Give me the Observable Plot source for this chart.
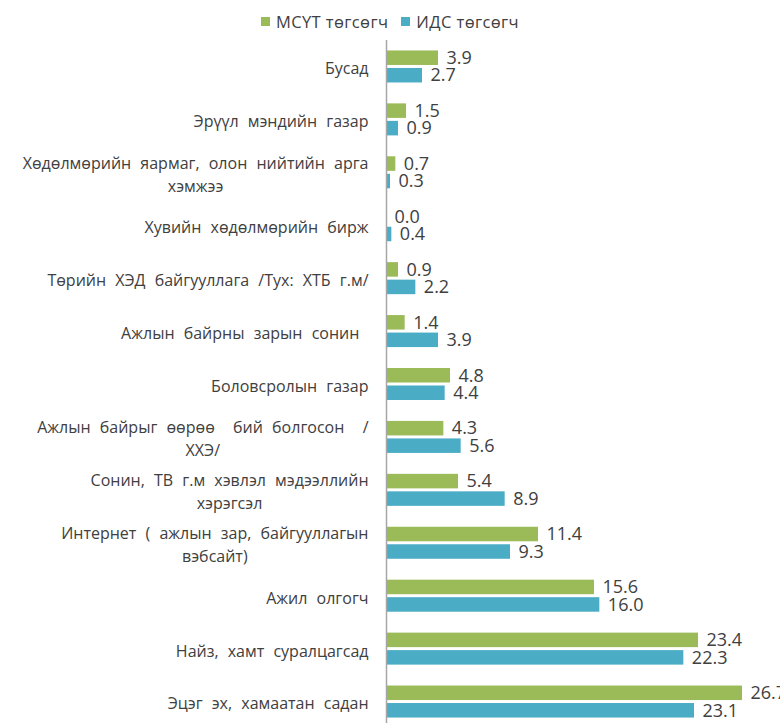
<!DOCTYPE html>
<html>
<head>
<meta charset="utf-8">
<script src="https://cdn.jsdelivr.net/npm/d3@7"></script>
<script src="https://cdn.jsdelivr.net/npm/@observablehq/plot@0.6"></script>
<style>
  html, body { margin: 0; padding: 0; background: #fff; overflow: hidden; }
  #legend { height: 36px; display: flex; justify-content: center; align-items: center; gap: 13px;
    font-family: "Open Sans", sans-serif; font-size: 16.5px; letter-spacing: 0.4px; color: #404040;
    padding-top: 6px; box-sizing: border-box; }
  #legend .item { display: flex; align-items: center; gap: 6px; }
  #legend .sw { width: 9px; height: 9px; display: inline-block; }
  #chart svg { overflow: hidden; display: block; }
</style>
</head>
<body>
<div id="legend"></div>
<div id="chart"></div>
<script>
const categories = [
  "Бусад",
  "Эрүүл мэндийн газар",
  "Хөдөлмөрийн яармаг, олон нийтийн арга\nхэмжээ",
  "Хувийн хөдөлмөрийн бирж",
  "Төрийн ХЭД байгууллага /Тух: ХТБ г.м/",
  "Ажлын байрны зарын сонин ",
  "Боловсролын газар",
  "Ажлын байрыг өөрөө  бий болгосон  /\nХХЭ/",
  "Сонин, ТВ г.м хэвлэл мэдээллийн\nхэрэгсэл",
  "Интернет ( ажлын зар, байгууллагын\nвэбсайт)",
  "Ажил олгогч",
  "Найз, хамт суралцагсад",
  "Эцэг эх, хамаатан садан"
];
const seriesNames = ["МСҮТ төгсөгч", "ИДС төгсөгч"];
const mcytValues = [3.9, 1.5, 0.7, 0.0, 0.9, 1.4, 4.8, 4.3, 5.4, 11.4, 15.6, 23.4, 26.7];
const idsValues  = [2.7, 0.9, 0.3, 0.4, 2.2, 3.9, 4.4, 5.6, 8.9, 9.3, 16.0, 22.3, 23.1];
const colors = ["#9BBB59", "#4BACC6"];

const mcyt = categories.map((c, i) => ({category: c, value: mcytValues[i]}));
const ids = categories.map((c, i) => ({category: c, value: idsValues[i]}));

// legend
const legend = document.getElementById("legend");
seriesNames.forEach((s, i) => {
  const it = document.createElement("span");
  it.className = "item";
  it.innerHTML = `<span class="sw" style="background:${colors[i]}"></span><span>${s}</span>`;
  legend.appendChild(it);
});

const half = 17.5;
const plot = Plot.plot({
  width: 780,
  height: 692,
  marginLeft: 386,
  marginRight: 0,
  marginTop: 4,
  marginBottom: 0,
  style: {fontFamily: "'Open Sans', sans-serif", background: "#fff", overflow: "hidden"},
  x: {domain: [0, 29.55], axis: null},
  y: {domain: categories, axis: null, round: false, paddingInner: 0.395, paddingOuter: 0.1975},
  marks: [
    Plot.barX(mcyt, {x: "value", y: "category", fill: colors[0], insetBottom: half}),
    Plot.barX(ids, {x: "value", y: "category", fill: colors[1], insetTop: half}),
    Plot.ruleX([0], {stroke: "#a6a6a6", strokeWidth: 1.5}),
    Plot.text(mcyt, {x: "value", y: "category", dy: -half / 2, dx: 8, textAnchor: "start",
      text: d => d.value.toFixed(1), fill: "#404040", fontSize: 18}),
    Plot.text(ids, {x: "value", y: "category", dy: half / 2, dx: 8, textAnchor: "start",
      text: d => d.value.toFixed(1), fill: "#404040", fontSize: 18}),
    Plot.text(categories, {y: d => d, text: d => d, frameAnchor: "left", dx: -18, textAnchor: "end",
      lineAnchor: "middle", lineHeight: 1.45, fill: "#404040", fontSize: 16})
  ]
});
document.getElementById("chart").appendChild(plot);

// word spacing on category labels, and centre the continuation line of wrapped labels
plot.querySelectorAll("text").forEach(t => {
  const spans = t.querySelectorAll("tspan");
  const raw = spans.length > 1 ? Array.from(spans).map(s => s.textContent).join("\n") : t.textContent;
  if (categories.includes(raw)) t.style.wordSpacing = "5px";
  if (spans.length > 1) {
    const w = spans[0].getComputedTextLength();
    t.setAttribute("text-anchor", "middle");
    const tr = t.getAttribute("transform") || "";
    t.setAttribute("transform", (tr + ` translate(${-w / 2},0)`).trim());
  }
});
</script>
</body>
</html>
